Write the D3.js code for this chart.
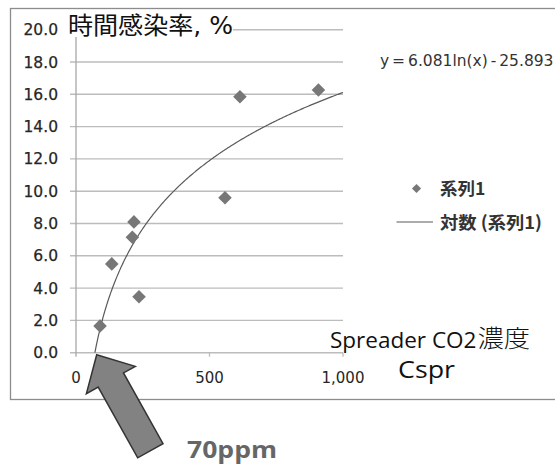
<!DOCTYPE html>
<html><head><meta charset="utf-8">
<script src="https://cdn.jsdelivr.net/npm/d3@7"></script>
<style>html,body{margin:0;padding:0;background:#fff;}</style>
</head><body>
<svg id="chart" width="555" height="467"></svg>
<script>
// ---- data ----
const co2 = [90, 134, 217, 211, 236, 558, 614, 908];
const infectionRate = [1.65, 5.5, 8.1, 7.15, 3.47, 9.6, 15.85, 16.27];
const yTicks = [0, 2, 4, 6, 8, 10, 12, 14, 16, 18, 20];
const xTicks = [0, 500, 1000];
const trendA = 6.081, trendB = -25.893;
const trendLabel = "y = 6.081ln(x) - 25.893";
const yTitle = "時間感染率, %";
const xTitle1 = "Spreader CO2";
const xTitle1b = "濃度";
const xTitle2 = "Cspr";
const seriesName = "系列1";
const trendName = "対数 (系列1)";
const markValue = 70;
const markLabel = "70ppm";

const svg = d3.select("#chart");
const jp = "'Noto Sans CJK JP','Noto Sans',sans-serif";
const dv = "'DejaVu Sans','Noto Sans CJK JP',sans-serif";
const os = "'Open Sans','Noto Sans',sans-serif";

svg.append("rect").attr("width",555).attr("height",467).attr("fill","#fff");
// outer frame
svg.append("rect").attr("x",10.5).attr("y",8.5).attr("width",580).attr("height",391)
  .attr("fill","none").attr("stroke","#8c8c8c").attr("stroke-width",1.3);

const x = d3.scaleLinear().domain([0,1000]).range([76,343]);
const y = d3.scaleLinear().domain([0,20]).range([352.7,29.7]);

// gridlines
svg.append("g").selectAll("line").data(yTicks).join("line")
  .attr("x1",70).attr("x2",x(1000)).attr("y1",d=>y(d)).attr("y2",d=>y(d))
  .attr("stroke","#bcbcbc").attr("stroke-width",1.4);

// y axis line
svg.append("line").attr("x1",x(0)).attr("x2",x(0)).attr("y1",y(20)).attr("y2",y(0)+4)
  .attr("stroke","#a8a8a8").attr("stroke-width",1.3);
// x ticks
svg.append("g").selectAll("line").data(xTicks.slice(1)).join("line")
  .attr("x1",d=>x(d)).attr("x2",d=>x(d)).attr("y1",y(0)).attr("y2",y(0)+4)
  .attr("stroke","#bcbcbc").attr("stroke-width",1.3);

// y labels
svg.append("g").selectAll("text").data(yTicks).join("text")
  .attr("x",58).attr("y",d=>y(d)).attr("dy","0.36em").attr("text-anchor","end")
  .attr("font-family",dv).attr("font-size",15.5).attr("fill","#262626")
  .attr("stroke","#262626").attr("stroke-width",0.25)
  .text(d=>d3.format(".1f")(d));
// x labels
svg.append("g").selectAll("text").data(xTicks).join("text")
  .attr("x",d=>x(d)).attr("y",y(0)+30).attr("text-anchor","middle")
  .attr("font-family",dv).attr("font-size",15).attr("fill","#262626")
  .text(d=>d3.format(",")(d));

// trendline
const x0 = Math.exp(-trendB/trendA);
const xs = d3.range(0, 400).map(i => x0 + i*(1000-x0)/399);
const trend = xs.map(v => [v, trendA*Math.log(v)+trendB]);
svg.append("path").datum(trend)
  .attr("d", d3.line().x(d=>x(d[0])).y(d=>y(d[1])))
  .attr("fill","none").attr("stroke","#5a5a5a").attr("stroke-width",1.2);

// points
svg.append("g").selectAll("path").data(co2.map((c,i)=>[c, infectionRate[i]])).join("path")
  .attr("d", d3.symbol().type(d3.symbolSquare).size(92)())
  .attr("transform",d=>`translate(${x(d[0])},${y(d[1])}) rotate(45)`)
  .attr("fill","#777");

// y title with white background
const tTitle = svg.append("text").attr("x",68).attr("y",34)
  .attr("font-family",dv).attr("font-size",24).attr("fill","#111")
  .attr("textLength",165).attr("lengthAdjust","spacingAndGlyphs").text(yTitle);
const bb = tTitle.node().getBBox();
svg.insert("rect", () => tTitle.node()).attr("x",bb.x).attr("y",bb.y+3).attr("width",bb.width).attr("height",bb.height-6).attr("fill","#fff");

// equation
svg.append("text").attr("x",380).attr("y",66).attr("font-family",dv).attr("font-size",15.5)
  .attr("word-spacing",-2).attr("fill","#333").text(trendLabel);

// legend
svg.append("path").attr("d", d3.symbol().type(d3.symbolSquare).size(42)())
  .attr("transform","translate(416.5,188.5) rotate(45)").attr("fill","#777");
svg.append("text").attr("x",440).attr("y",188.5).attr("dy","0.36em").attr("font-family",jp)
  .attr("font-size",17.5).attr("font-weight",700).attr("fill","#333").text(seriesName);
svg.append("line").attr("x1",396.5).attr("x2",433).attr("y1",222).attr("y2",222)
  .attr("stroke","#5a5a5a").attr("stroke-width",1.2);
svg.append("text").attr("x",440).attr("y",222.5).attr("dy","0.36em").attr("font-family",jp)
  .attr("font-size",17.5).attr("font-weight",700).attr("fill","#333")
  .attr("textLength",102).attr("lengthAdjust","spacingAndGlyphs").text(trendName);

// x title
const xt1 = svg.append("text").attr("x",330).attr("y",348).attr("font-family",os).attr("font-size",22.5)
  .attr("fill","#111").text(xTitle1);
const xt1End = 330 + xt1.node().getComputedTextLength();
svg.append("text").attr("x",xt1End+1).attr("y",347).attr("font-family",jp).attr("font-size",24)
  .attr("font-weight",300).attr("fill","#111").attr("textLength",530-xt1End-1).attr("lengthAdjust","spacingAndGlyphs").text(xTitle1b);
svg.append("text").attr("x",398).attr("y",378).attr("font-family",os).attr("font-size",24.5)
  .attr("fill","#111").attr("textLength",57).attr("lengthAdjust","spacingAndGlyphs").text(xTitle2);

// arrow pointing at markValue
const tipX = x(markValue)+2, tipY = y(0)+2;
const ang = 60.8;
const arrowShape = [[0,0],[29,-28],[29,-14.5],[110,-14.5],[110,14.5],[29,14.5],[29,28]];
svg.append("path").attr("d", d3.line()(arrowShape)+"Z")
  .attr("transform",`translate(${tipX},${tipY}) rotate(${ang})`)
  .attr("fill","#828282").attr("stroke","#333").attr("stroke-width",1.5).attr("stroke-linejoin","miter");
svg.append("text").attr("x",187).attr("y",458).attr("font-family",os).attr("font-size",24)
  .attr("font-weight",700).attr("fill","#666").attr("textLength",90).attr("lengthAdjust","spacingAndGlyphs").text(markLabel);
</script>
</body></html>
